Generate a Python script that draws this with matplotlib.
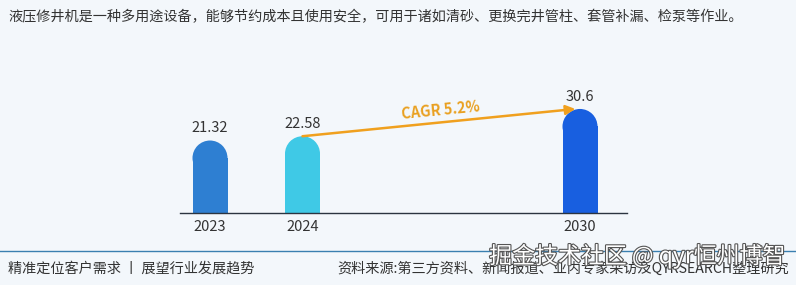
import matplotlib
matplotlib.use("Agg")
import matplotlib.pyplot as plt
from matplotlib.patches import Rectangle, Ellipse
from matplotlib.lines import Line2D
import matplotlib.patheffects as pe

plt.rcParams['font.family'] = ['Noto Sans CJK SC', 'DejaVu Sans']

# ---- data ----
years = ["2023", "2024", "2030"]
values = [21.32, 22.58, 30.6]
positions = [0, 1, 4]
bar_colors = ["#2E7FD2", "#3FC9E6", "#185FE0"]
cagr_label = "CAGR 5.2%"
title = "液压修井机是一种多用途设备，能够节约成本且使用安全，可用于诸如清砂、更换完井管柱、套管补漏、检泵等作业。"
footer_left = "精准定位客户需求 丨 展望行业发展趋势"
footer_right = "资料来源:第三方资料、新闻报道、业内专家采访及QYRSEARCH整理研究"
watermark = "掘金技术社区 @ qyr恒州博智"

W, H = 796, 285
bg = "#F3F7FB"
fig = plt.figure(figsize=(W / 100, H / 100), dpi=100, facecolor=bg)

# axes placement (pixels)
ax_l, ax_r = 180, 627
ax_base, ax_top = 213, 63
ax = fig.add_axes([ax_l / W, (H - ax_base) / H, (ax_r - ax_l) / W, (ax_base - ax_top) / H])
ax.set_facecolor("none")
px_per_x = 92.5
px_per_y = 3.4
x0 = -(210 - ax_l) / px_per_x
ax.set_xlim(x0, x0 + (ax_r - ax_l) / px_per_x)
ax.set_ylim(0, (ax_base - ax_top) / px_per_y)

for s in ["top", "right", "left"]:
    ax.spines[s].set_visible(False)
ax.spines["bottom"].set_color("#2B3440")
ax.spines["bottom"].set_linewidth(1.0)
ax.set_yticks([])
ax.set_xticks(positions)
ax.set_xticklabels(years, fontsize=10.5, color="#333333")
ax.tick_params(axis="x", length=0, pad=5)

bar_w_px = 35
bw = bar_w_px / px_per_x
r = (bar_w_px / 2) / px_per_y
for x, v, c in zip(positions, values, bar_colors):
    ax.add_patch(Rectangle((x - bw / 2, 0), bw, v - r, facecolor=c, edgecolor="none", zorder=2))
    ax.add_patch(Ellipse((x, v - r), bw, 2 * r, facecolor=c, edgecolor="none", zorder=2))
    ax.annotate(f"{v:g}", (x, v), xytext=(0, 6), textcoords="offset points",
                ha="center", va="baseline", fontsize=10.5, color="#333333", zorder=4)

# CAGR arrow
orange = "#F0A01E"
ax.annotate("", xy=(positions[2] - 0.05, values[2]), xytext=(positions[1], values[1]),
            arrowprops=dict(arrowstyle="-|>", color=orange, lw=1.8, mutation_scale=14,
                            shrinkA=0, shrinkB=0), zorder=5)
import math
ang = math.degrees(math.atan2((values[2] - values[1]) * px_per_y,
                              (positions[2] - positions[1]) * px_per_x))
xm = 2.49
ym = values[1] + (values[2] - values[1]) * (xm - positions[1]) / (positions[2] - positions[1])
ax.annotate(cagr_label, (xm, ym), xytext=(0, 9), textcoords="offset points",
            ha="center", va="center", rotation=ang, rotation_mode="anchor",
            fontsize=10.5, fontweight="bold", color="#E9A020", zorder=5)

# title
fig.text(8 / W, 1 - 17 / H, title, fontsize=10.2, color="#333333", ha="left", va="center")

# footer line
fig.add_artist(Line2D([0, 1], [1 - 251 / H, 1 - 251 / H], color="#3A7FB0", lw=1.0))
fig.text(8 / W, 1 - 269 / H, footer_left, fontsize=10.2, color="#333333", ha="left", va="center")
fig.text(789 / W, 1 - 269 / H, footer_right, fontsize=10.2, color="#333333", ha="right", va="center")

# platform watermark
fig.text(785 / W, 1 - 256 / H, watermark, fontsize=16.5, color="white", ha="right", va="center",
         path_effects=[pe.withStroke(linewidth=1.6, foreground="#555555")], zorder=10)

fig.savefig("out.png", dpi=100, facecolor=bg)
